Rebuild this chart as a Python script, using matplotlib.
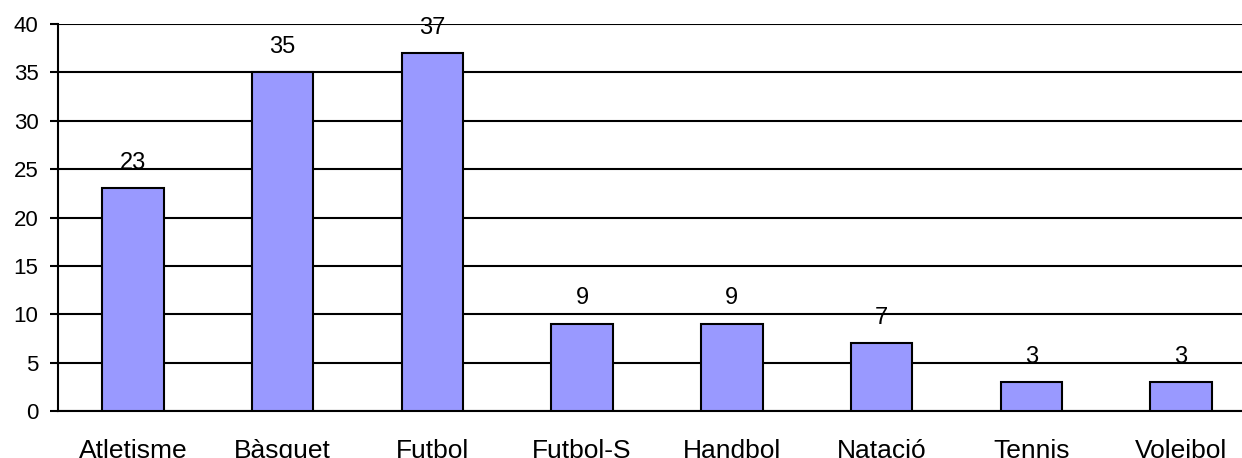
import matplotlib
matplotlib.use('Agg')
import matplotlib.pyplot as plt

# Sports and number of people for each one
sports = ['Atletisme', 'Bàsquet', 'Futbol', 'Futbol-S', 'Handbol', 'Natació', 'Tennis', 'Voleibol']
counts = [23, 35, 37, 9, 9, 7, 3, 3]
y_ticks = [0, 5, 10, 15, 20, 25, 30, 35, 40]

plt.rcParams['font.family'] = ['Liberation Sans', 'DejaVu Sans']

fig = plt.figure(figsize=(12.42, 4.58), dpi=100)
ax = fig.add_axes([58 / 1242, 47 / 458, 1198 / 1242, 387 / 458])

x = range(len(sports))
ax.bar(x, counts, width=0.41, color='#9999FF', edgecolor='black', linewidth=1.5, zorder=3)

# value labels above the bars
for i, v in enumerate(counts):
    ax.annotate(str(v), (i, v), xytext=(0, 14), textcoords='offset points',
                ha='center', va='baseline', fontsize=17, zorder=4)

ax.set_xlim(-0.5, len(sports) - 0.5)
ax.set_ylim(0, 40)
ax.set_yticks(y_ticks)
ax.set_xticks(list(x))
ax.set_xticklabels(sports)
ax.yaxis.grid(True, color='black', linewidth=1.5, zorder=0)
ax.set_axisbelow(True)

for side in ['top', 'right']:
    ax.spines[side].set_visible(False)
for side in ['left', 'bottom']:
    ax.spines[side].set_linewidth(1.5)

ax.tick_params(axis='y', length=6, width=1.5, pad=8, labelsize=16)
ax.tick_params(axis='x', length=0, pad=20, labelsize=19)

fig.savefig('out.png', dpi=100)
